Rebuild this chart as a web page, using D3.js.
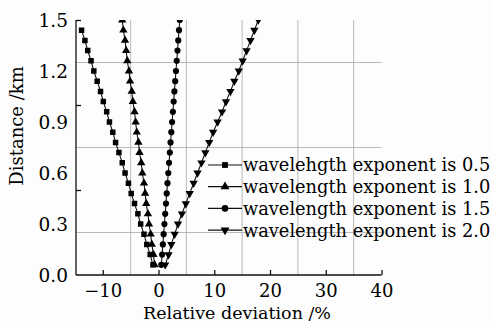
<!DOCTYPE html>
<html>
<head>
<meta charset="utf-8">
<script src="https://cdn.jsdelivr.net/npm/d3@7"></script>
<style>
  body { margin: 0; background: #fff; }
  text { font-family: "DejaVu Serif", serif; fill: #000; }
</style>
</head>
<body>
<svg id="chart" width="493" height="321"></svg>
<script>
// distance (km) for every sample
var distance = [0.06, 0.12, 0.18, 0.24, 0.30, 0.36, 0.42, 0.48, 0.54, 0.60, 0.66, 0.72,
  0.78, 0.84, 0.90, 0.96, 1.02, 1.08, 1.14, 1.20, 1.26, 1.32, 1.38, 1.44, 1.50];

// relative deviation (%) per wavelength exponent
var dev05 = [-1.0, -1.5, -2.1, -2.6, -3.2, -3.7, -4.3, -4.9, -5.4, -6.0, -6.5, -7.1,
  -7.7, -8.2, -8.8, -9.3, -9.9, -10.4, -11.0, -11.6, -12.1, -12.7, -13.2, -13.8];
var dev10 = [-0.7, -0.9, -1.2, -1.4, -1.7, -1.9, -2.2, -2.4, -2.6, -2.9, -3.1, -3.4,
  -3.6, -3.9, -4.1, -4.3, -4.6, -4.8, -5.1, -5.3, -5.6, -5.8, -6.0, -6.3, -6.5];
var dev15 = [0.5, 0.65, 0.78, 0.92, 1.06, 1.2, 1.34, 1.47, 1.61, 1.75, 1.89, 2.03,
  2.16, 2.3, 2.44, 2.58, 2.72, 2.85, 2.99, 3.13, 3.27, 3.41, 3.54, 3.68, 3.82];
var dev20 = [1.2, 1.8, 2.3, 2.9, 3.5, 4.2, 4.9, 5.6, 6.3, 7.0, 7.7, 8.4,
  9.1, 9.8, 10.6, 11.4, 12.1, 12.9, 13.6, 14.4, 15.1, 15.8, 16.5, 17.2, 17.9];

var seriesNames = ['wavelehgth exponent is 0.5', 'wavelength exponent is 1.0',
  'wavelength exponent is 1.5', 'wavelength exponent is 2.0'];

var xTicks = [-10, 0, 10, 20, 30, 40];
var xGrid = [-5, 5, 15, 25, 35];
var yLabels = [0.0, 0.3, 0.6, 0.9, 1.2, 1.5];
var yTickMarks = [0.5, 1.0, 1.5];
var yGrid = [0.25, 0.75, 1.25];

var svg = d3.select('#chart');
var pLeft = 76, pRight = 381.5, pTop = 20, pBottom = 275;

var x = d3.scaleLinear().domain([-14.8, 40]).range([pLeft, pRight]);
var y = d3.scaleLinear().domain([0, 1.5]).range([pBottom, pTop]);

var symbols = [d3.symbolSquare, d3.symbolTriangle, d3.symbolCircle, d3.symbolTriangle];
var symSize = [30, 30, 30, 30];

var series = [dev05, dev10, dev15, dev20].map((devs, i) => ({
  name: seriesNames[i],
  points: devs.map((v, j) => ({ x: v, y: distance[j] }))
}));

svg.append('rect').attr('width', 493).attr('height', 321).attr('fill', '#fdfdfd');

// grid
svg.selectAll('.vgrid').data(xGrid).enter().append('line')
  .attr('x1', d => x(d)).attr('x2', d => x(d))
  .attr('y1', pTop).attr('y2', pBottom)
  .attr('stroke', '#a8a8a8').attr('stroke-width', 0.8);
svg.selectAll('.hgrid').data(yGrid).enter().append('line')
  .attr('x1', pLeft).attr('x2', pRight)
  .attr('y1', d => y(d)).attr('y2', d => y(d))
  .attr('stroke', '#a8a8a8').attr('stroke-width', 0.8);

// axes
var xAxis = d3.axisBottom(x).tickValues(xTicks).tickSize(-5).tickPadding(9)
  .tickFormat(d => d < 0 ? '\u2212' + Math.abs(d) : d);
var gx = svg.append('g').attr('transform', 'translate(0,' + pBottom + ')').call(xAxis);
gx.select('.domain').attr('d', 'M' + pLeft + ',0H' + pRight);

var yAxis = d3.axisLeft(y).tickValues(yTickMarks).tickSize(-5).tickFormat('');
var gy = svg.append('g').attr('transform', 'translate(' + pLeft + ',0)').call(yAxis);
gy.select('.domain').attr('d', 'M0,' + pTop + 'V' + pBottom);

svg.selectAll('.domain, .tick line').attr('stroke', '#111').attr('stroke-width', 1.3);
gx.selectAll('.tick text').attr('font-size', 18).attr('font-family', '"DejaVu Serif", serif').attr('fill', '#000');

svg.selectAll('.ylab').data(yLabels).enter().append('text')
  .attr('x', 68).attr('y', d => y(d))
  .attr('dy', '0.36em')
  .attr('text-anchor', 'end')
  .attr('font-size', 18.5)
  .text(d => d.toFixed(1));

svg.append('text')
  .attr('x', 237).attr('y', 318.5)
  .attr('text-anchor', 'middle')
  .attr('font-size', 17.5)
  .text('Relative deviation /%');

svg.append('text')
  .attr('transform', 'translate(23,126) rotate(-90)')
  .attr('text-anchor', 'middle')
  .attr('font-size', 18)
  .text('Distance /km');

// series
svg.append('clipPath').attr('id', 'plot-clip')
  .append('rect').attr('x', pLeft).attr('y', pTop).attr('width', pRight - pLeft).attr('height', pBottom - pTop);

var line = d3.line().x(d => x(d.x)).y(d => y(d.y));
var sg = svg.append('g').attr('clip-path', 'url(#plot-clip)');

series.forEach((s, i) => {
  sg.append('path')
    .attr('d', line(s.points))
    .attr('fill', 'none')
    .attr('stroke', '#111')
    .attr('stroke-width', 1.1);
  sg.selectAll('.m' + i).data(s.points).enter().append('path')
    .attr('transform', d => 'translate(' + x(d.x) + ',' + y(d.y) + ')' + (i === 3 ? ' rotate(180)' : ''))
    .attr('d', d3.symbol().type(symbols[i]).size(symSize[i]))
    .attr('fill', '#000');
});

// legend
var legend = svg.selectAll('.legend').data(series).enter().append('g')
  .attr('transform', (d, i) => 'translate(208,' + (165 + i * 21.7) + ')');
legend.append('line').attr('x1', 0).attr('x2', 34).attr('stroke', '#111').attr('stroke-width', 1.2);
legend.append('path')
  .attr('transform', (d, i) => 'translate(17,0)' + (i === 3 ? ' rotate(180)' : ''))
  .attr('d', (d, i) => d3.symbol().type(symbols[i]).size(symSize[i] + 4)())
  .attr('fill', '#000');
legend.append('text')
  .attr('x', 35).attr('dy', '0.36em')
  .attr('font-size', 17.8)
  .text(d => d.name);
</script>
</body>
</html>
